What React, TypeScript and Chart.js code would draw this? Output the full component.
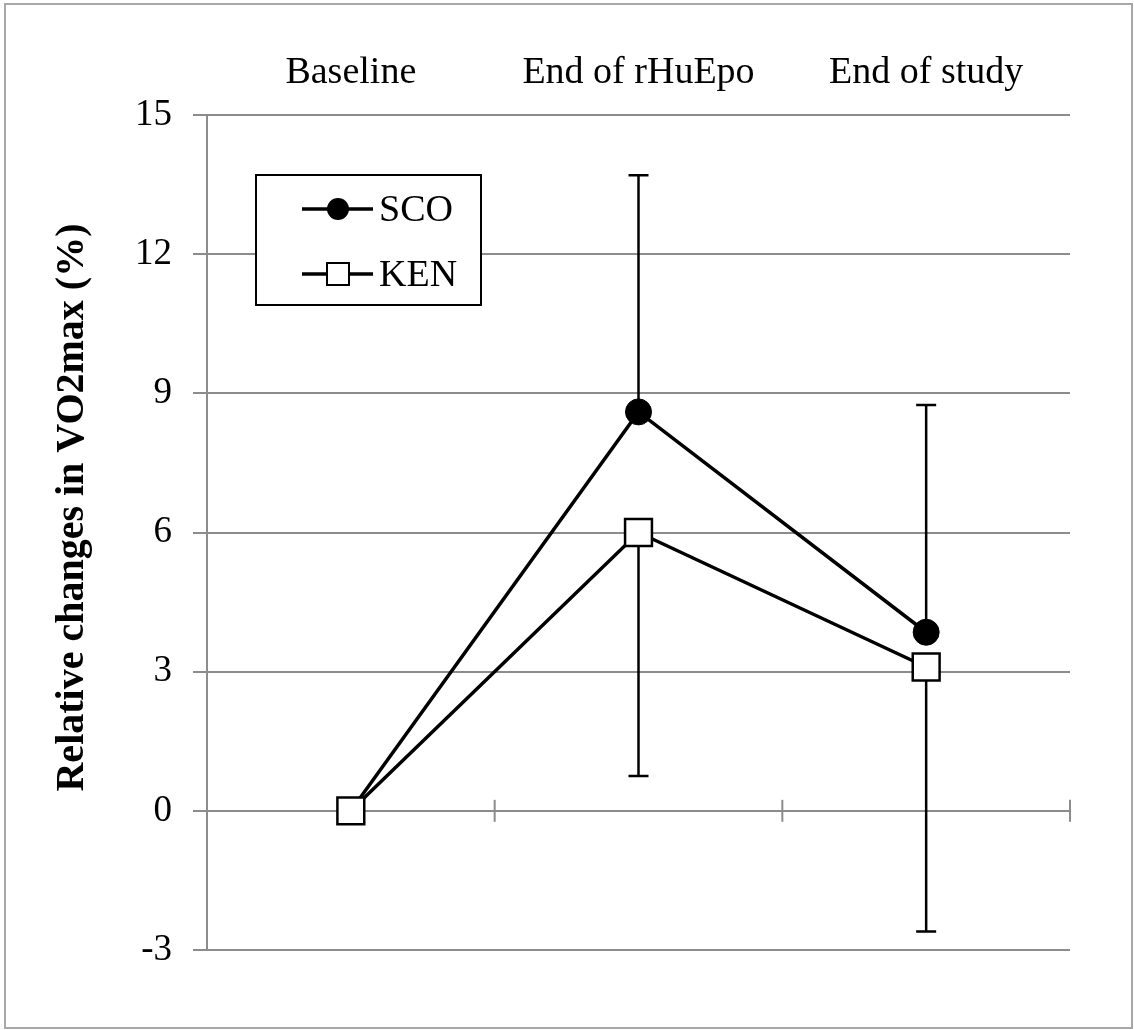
import React, { useEffect, useRef } from 'react';
import { Chart, registerables } from 'chart.js';

Chart.register(...registerables);

const categories = ['Baseline', 'End of rHuEpo', 'End of study'];
const scoValues = [0, 8.6, 3.85];
const kenValues = [0, 6.0, 3.1];
const scoErrUp = [0, 5.1, 4.9];
const kenErrDown = [0, 5.25, 5.7];
const seriesNames = ['SCO', 'KEN'];
const yTitle = 'Relative changes in VO2max (%)';

const FONT = "'Liberation Serif', 'Times New Roman', serif";
const GRID = '#8c8c8c';

const framePlugin = {
  id: 'frame',
  beforeDraw(chart: any) {
    const ctx = chart.ctx;
    ctx.save();
    ctx.fillStyle = '#fff';
    ctx.fillRect(0, 0, chart.width, chart.height);
    ctx.strokeStyle = '#a8a8a8';
    ctx.lineWidth = 2;
    ctx.strokeRect(5, 4, chart.width - 7, chart.height - 6);
    ctx.restore();
  },
  afterDraw(chart: any) {
    const { ctx, chartArea } = chart;
    ctx.save();
    ctx.translate(83, (chartArea.top + chartArea.bottom) / 2 - 25);
    ctx.rotate(-Math.PI / 2);
    ctx.fillStyle = '#000';
    ctx.font = `bold 40px ${FONT}`;
    ctx.textAlign = 'center';
    ctx.textBaseline = 'alphabetic';
    ctx.fillText(yTitle, 0, 0);
    ctx.restore();
  },
};

const zeroTicksPlugin = {
  id: 'zeroTicks',
  beforeDatasetsDraw(chart: any) {
    const { ctx, scales, chartArea } = chart;
    const x = scales.x;
    const y0 = scales.y.getPixelForValue(0);
    ctx.save();
    ctx.strokeStyle = GRID;
    ctx.lineWidth = 2;
    const xs: number[] = [];
    for (let i = 1; i < categories.length; i++) {
      xs.push((x.getPixelForTick(i - 1) + x.getPixelForTick(i)) / 2);
    }
    xs.push(chartArea.right);
    xs.forEach((px) => {
      ctx.beginPath();
      ctx.moveTo(px, y0 - 11);
      ctx.lineTo(px, y0 + 11);
      ctx.stroke();
    });
    ctx.restore();
  },
};

const errorBarPlugin = {
  id: 'errorBars',
  beforeDatasetsDraw(chart: any) {
    const { ctx, scales } = chart;
    const x = scales.x;
    const y = scales.y;
    ctx.save();
    ctx.strokeStyle = '#000';
    ctx.lineWidth = 2.5;
    const drawBar = (i: number, from: number, to: number) => {
      if (from === to) return;
      const px = x.getPixelForTick(i);
      const y1 = y.getPixelForValue(from);
      const y2 = y.getPixelForValue(to);
      ctx.beginPath();
      ctx.moveTo(px, y1);
      ctx.lineTo(px, y2);
      ctx.moveTo(px - 10, y2);
      ctx.lineTo(px + 10, y2);
      ctx.stroke();
    };
    categories.forEach((_, i) => {
      drawBar(i, scoValues[i], scoValues[i] + scoErrUp[i]);
      drawBar(i, kenValues[i], kenValues[i] - kenErrDown[i]);
    });
    ctx.restore();
  },
};

const legendPlugin = {
  id: 'boxLegend',
  afterDraw(chart: any) {
    const { ctx, chartArea } = chart;
    const bx = chartArea.left + 49;
    const by = chartArea.top + 60;
    const bw = 225;
    const bh = 130;
    ctx.save();
    ctx.fillStyle = '#fff';
    ctx.fillRect(bx, by, bw, bh);
    ctx.strokeStyle = '#000';
    ctx.lineWidth = 2;
    ctx.strokeRect(bx, by, bw, bh);
    const rows = [by + 34, by + 99];
    rows.forEach((ry, k) => {
      const ds = chart.data.datasets[k];
      const lx1 = bx + 46;
      const lx2 = bx + 117;
      const mx = bx + 82;
      ctx.strokeStyle = '#000';
      ctx.lineWidth = 3.5;
      ctx.beginPath();
      ctx.moveTo(lx1, ry);
      ctx.lineTo(lx2, ry);
      ctx.stroke();
      ctx.lineWidth = 2;
      if (ds.pointStyle === 'circle') {
        ctx.fillStyle = ds.pointBackgroundColor;
        ctx.beginPath();
        ctx.arc(mx, ry, 11, 0, Math.PI * 2);
        ctx.fill();
      } else {
        ctx.fillStyle = ds.pointBackgroundColor;
        ctx.fillRect(mx - 11, ry - 11, 22, 22);
        ctx.strokeRect(mx - 11, ry - 11, 22, 22);
      }
      ctx.fillStyle = '#000';
      ctx.font = `38px ${FONT}`;
      ctx.textAlign = 'left';
      ctx.textBaseline = 'middle';
      ctx.fillText(ds.label, lx2 + 6, ry + 2);
    });
    ctx.restore();
  },
};

export default function App() {
  const ref = useRef<HTMLCanvasElement | null>(null);

  useEffect(() => {
    if (!ref.current) return;
    const chart = new Chart(ref.current, {
      type: 'line',
      data: {
        labels: categories,
        datasets: [
          {
            label: seriesNames[0],
            data: scoValues,
            borderColor: '#000',
            borderWidth: 3.5,
            pointStyle: 'circle',
            pointRadius: 13,
            pointBackgroundColor: '#000',
            pointBorderColor: '#000',
            pointBorderWidth: 1,
            tension: 0,
            order: 1,
          },
          {
            label: seriesNames[1],
            data: kenValues,
            borderColor: '#000',
            borderWidth: 3.5,
            pointStyle: 'rect',
            pointRadius: 19,
            pointBackgroundColor: '#fff',
            pointBorderColor: '#000',
            pointBorderWidth: 2.5,
            tension: 0,
            order: 0,
          },
        ],
      },
      options: {
        responsive: false,
        animation: false,
        layout: { padding: { top: 0, right: 64, bottom: 80, left: 0 } },
        plugins: {
          legend: { display: false },
          tooltip: { enabled: false },
        },
        scales: {
          x: {
            type: 'category',
            position: 'top',
            offset: true,
            grid: { display: false, drawTicks: false },
            border: { display: false },
            ticks: {
              color: '#000',
              padding: 19,
              maxRotation: 0,
              font: { family: FONT, size: 38 },
            },
            afterFit: (scale: any) => {
              scale.height = 115;
            },
          },
          y: {
            min: -3,
            max: 15,
            ticks: {
              stepSize: 3,
              color: '#000',
              padding: 21,
              font: { family: FONT, size: 37 },
            },
            grid: {
              color: GRID,
              lineWidth: 2,
              tickLength: 14,
              tickColor: GRID,
            },
            border: { display: true, color: GRID, width: 2 },
            title: { display: false },
            afterFit: (scale: any) => {
              scale.width = 207;
            },
          },
        },
      },
      plugins: [framePlugin, zeroTicksPlugin, errorBarPlugin, legendPlugin],
    } as any);
    return () => chart.destroy();
  }, []);

  return (
    <div style={{ position: 'absolute', left: 0, top: 0, width: 1134, height: 1030, background: '#fff' }}>
      <canvas ref={ref} width={1134} height={1030} />
    </div>
  );
}
